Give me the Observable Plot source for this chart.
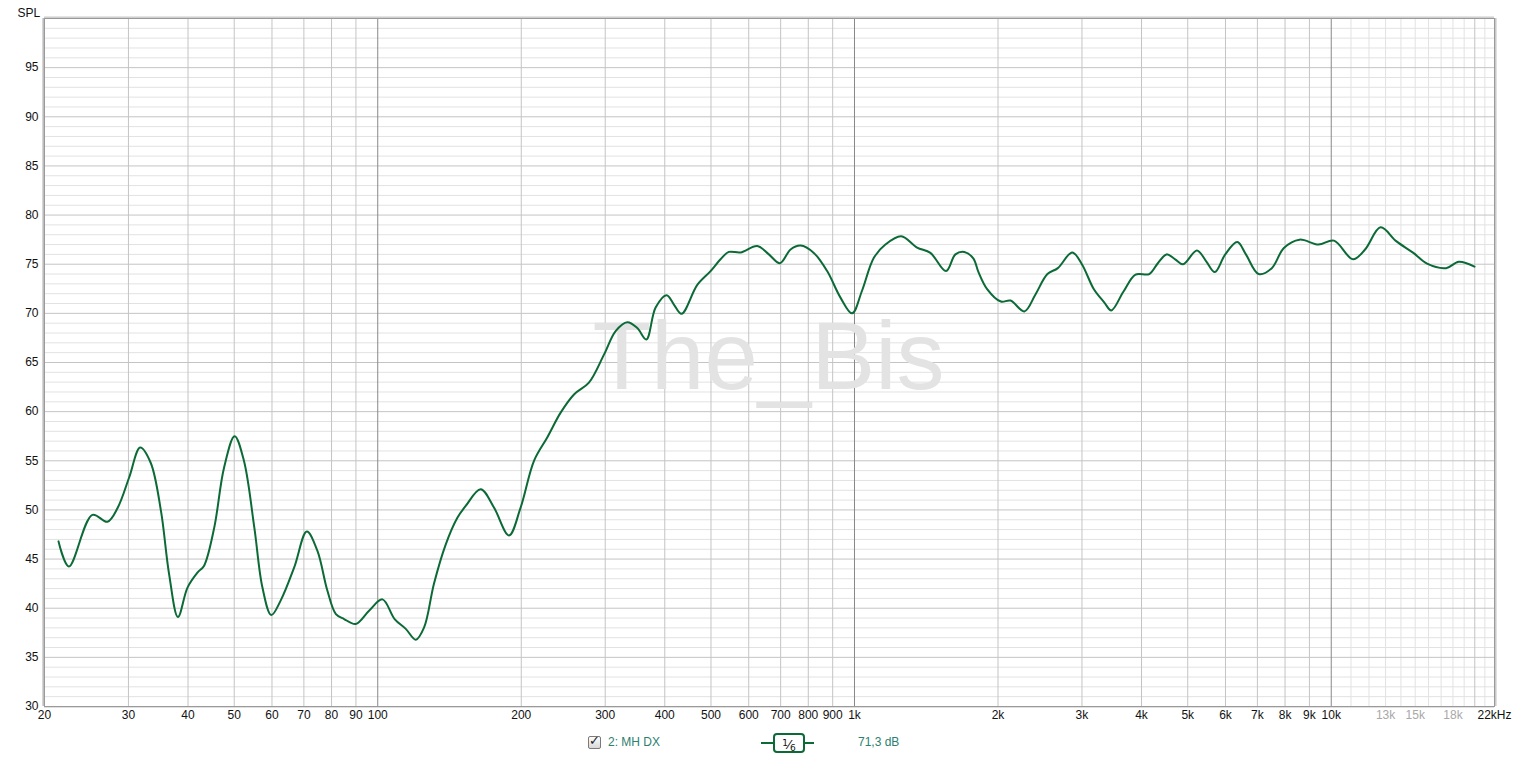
<!DOCTYPE html>
<html>
<head>
<meta charset="utf-8">
<script src="https://cdn.jsdelivr.net/npm/d3@7"></script>
<script src="https://cdn.jsdelivr.net/npm/@observablehq/plot@0.6"></script>
<style>
  html, body { margin: 0; padding: 0; background: #fff; }
  #wrap { position: relative; width: 1516px; height: 758px; overflow: hidden; font-family: "Liberation Sans", Arial, sans-serif; }
  #legend { position: absolute; left: 0; top: 730px; width: 1516px; height: 28px; font-size: 12px; }
  .lg { position: absolute; white-space: nowrap; }
</style>
</head>
<body>
<div id="wrap">
  <div id="chart"></div>
  <div id="legend">
    <div class="lg" style="left:588px;top:6px;width:11px;height:11px;border:1px solid #7a7a7a;border-radius:2px;background:linear-gradient(#fdfdfd,#d8d8d8);"></div>
    <div class="lg" style="left:589px;top:3px;font-size:13px;color:#222;font-family:'DejaVu Sans';">✓</div>
    <div class="lg" id="seriesName" style="left:608px;top:5px;color:#2b8070;"></div>
    <div class="lg" style="left:761px;top:12px;width:53px;height:2px;background:#0b6a36;"></div>
    <div class="lg" style="left:773px;top:3px;width:28px;height:16px;border:2px solid #0b6a36;border-radius:4px;background:#fff;text-align:center;font-size:13px;line-height:16px;color:#111;font-family:'DejaVu Sans';"><span style="font-size:9px;vertical-align:3px;">1</span>⁄<span style="font-size:9px;vertical-align:-2px;">6</span></div>
    <div class="lg" id="levelText" style="left:858px;top:5px;color:#2b8070;"></div>
  </div>
</div>
<script>
// ---- data ----
const freqs = [21.4, 22.5, 25.2, 27.1, 28.5, 30.1, 31.75, 33.4, 35.1, 36.5, 38.1, 39.9, 41.9, 43.2, 45.4, 47.6, 50.1, 52.4, 55.1, 57.3, 59.8, 62.6, 66.8, 71.0, 74.7, 78.4, 81.7, 85.0, 89.9, 95.9, 102.3, 108.5, 114.5, 120.2, 125.1, 131.2, 138.9, 146.9, 152.9, 164.4, 175.3, 188.5, 199.4, 212.7, 226.9, 241.9, 258, 277.3, 298.2, 315.5, 333.8, 350.3, 365.9, 382.7, 403.6, 418, 433.8, 468, 499, 523.6, 545.1, 576.8, 625.2, 661.3, 697.5, 734.4, 770.7, 821.6, 876.3, 934.6, 988.8, 1037, 1098, 1161, 1253, 1353, 1443, 1556, 1628, 1700, 1775, 1820, 1896, 2028, 2124, 2271, 2395, 2539, 2670, 2862, 2999, 3178, 3343, 3456, 3664, 3885, 4152, 4328, 4514, 4705, 4889, 5226, 5466, 5699, 5993, 6353, 6622, 7043, 7505, 7955, 8578, 9402, 10132, 11105, 11774, 12690, 13683, 14867, 15889, 17414, 18521, 19973];
const spl = [46.8, 44.25, 49.5, 48.8, 50.25, 53.3, 56.35, 54.8, 49.9, 43.5, 39.1, 42.1, 43.65, 44.3, 48.2, 54.3, 57.5, 55.0, 48.2, 42.1, 39.3, 40.8, 44.15, 47.8, 45.85, 41.8, 39.4, 38.9, 38.4, 39.75, 40.9, 38.9, 37.9, 36.8, 38.05, 42.5, 46.5, 49.2, 50.4, 52.1, 50.25, 47.4, 50.25, 55.0, 57.4, 59.9, 61.75, 62.95, 65.8, 68.2, 69.1, 68.5, 67.35, 70.6, 71.85, 70.9, 69.95, 72.9, 74.3, 75.5, 76.25, 76.2, 76.85, 76.0, 75.1, 76.5, 76.9, 76.15, 74.3, 71.6, 70.0, 72.3, 75.65, 77.0, 77.85, 76.7, 76.15, 74.3, 76.0, 76.25, 75.6, 74.2, 72.5, 71.2, 71.3, 70.2, 71.9, 74.0, 74.6, 76.2, 75.0, 72.45, 71.1, 70.3, 72.2, 73.95, 74.0, 75.1, 76.0, 75.5, 75.0, 76.4, 75.3, 74.2, 76.0, 77.25, 76.0, 74.0, 74.6, 76.65, 77.5, 77.0, 77.4, 75.5, 76.5, 78.75, 77.35, 76.15, 75.05, 74.6, 75.25, 74.75];

const seriesName = "2: MH DX";
const levelLabel = "71,3 dB";
const watermark = "The_Bis";
const yAxisTitle = "SPL";

const yTicks = [30, 35, 40, 45, 50, 55, 60, 65, 70, 75, 80, 85, 90, 95];
const xTickValues = [20, 30, 40, 50, 60, 70, 80, 90, 100, 200, 300, 400, 500, 600, 700, 800, 900, 1000, 2000, 3000, 4000, 5000, 6000, 7000, 8000, 9000, 10000];
const xTickLabels = ["20", "30", "40", "50", "60", "70", "80", "90", "100", "200", "300", "400", "500", "600", "700", "800", "900", "1k", "2k", "3k", "4k", "5k", "6k", "7k", "8k", "9k", "10k"];
const xFaintTickValues = [13000, 15000, 18000];
const xFaintTickLabels = ["13k", "15k", "18k"];
const xEndTickValues = [22000];
const xEndTickLabels = ["22kHz"];

const majorGridX = [30, 40, 50, 60, 70, 80, 90, 200, 300, 400, 500, 600, 700, 800, 900, 2000, 3000, 4000, 5000, 6000, 7000, 8000, 9000, 20000];
const decadeGridX = [100, 1000, 10000];
const minorGridX = [11000, 12000, 13000, 14000, 15000, 16000, 17000, 18000, 19000, 21000];
const majorGridY = [35, 40, 45, 50, 55, 60, 65, 70, 75, 80, 85, 90, 95];
const minorGridY = d3.range(31, 100).filter(v => v % 5 !== 0);

// ---- chart ----
const data = freqs.map((f, i) => ({f, v: spl[i]}));
const tickData = (vals, labels) => vals.map((v, i) => ({v, label: labels[i]}));

const chart = Plot.plot({
  width: 1516,
  height: 730,
  marginLeft: 44,
  marginRight: 22,
  marginTop: 18,
  marginBottom: 24,
  x: {type: "log", domain: [20, 22000], axis: null},
  y: {domain: [30, 100], axis: null},
  style: {fontFamily: "'Liberation Sans', Arial, sans-serif", fontSize: "12px", background: "#fff", color: "#111"},
  marks: [
    Plot.ruleY(minorGridY, {stroke: "#e2e2e2"}),
    Plot.ruleX(minorGridX, {stroke: "#e2e2e2"}),
    Plot.ruleY(majorGridY, {stroke: "#c4c4c4"}),
    Plot.ruleX(majorGridX, {stroke: "#c4c4c4"}),
    Plot.ruleX(decadeGridX, {stroke: "#888"}),
    Plot.text([watermark], {x: 660, y: 65.4, text: d => d, fontSize: 96, fill: "#e3e3e3", textAnchor: "middle", fontFamily: "'Liberation Sans', Arial, sans-serif"}),
    Plot.line(data, {x: "f", y: "v", curve: "catmull-rom", stroke: "#0b6a36", strokeWidth: 2}),
    // frame with shadow
    Plot.ruleX([20], {stroke: "#d6d6d6", dx: -2}),
    Plot.ruleX([20], {stroke: "#bdbdbd", dx: -1}),
    Plot.ruleY([100], {stroke: "#e4e4e4", dy: -2}),
    Plot.ruleY([100], {stroke: "#cfcfcf", dy: -1}),
    Plot.ruleX([22000], {stroke: "#c9c9c9", dx: 1}),
    Plot.ruleX([22000], {stroke: "#e0e0e0", dx: 2}),
    Plot.ruleY([30], {stroke: "#e0e0e0", dy: 1}),
    Plot.frame({stroke: "#9a9a9a"}),
    // axes
    Plot.axisY(yTicks, {anchor: "left", tickSize: 0, tickPadding: 6, label: null, fill: "#111"}),
    Plot.text(tickData(xTickValues, xTickLabels), {x: "v", text: "label", frameAnchor: "bottom", dy: 12, fill: "#111"}),
    Plot.text(tickData(xFaintTickValues, xFaintTickLabels), {x: "v", text: "label", frameAnchor: "bottom", dy: 12, fill: "#a8a8a8"}),
    Plot.text(tickData(xEndTickValues, xEndTickLabels), {x: "v", text: "label", frameAnchor: "bottom", dy: 12, fill: "#111"}),
    Plot.text([yAxisTitle], {frameAnchor: "top-left", dx: -27, dy: -10, text: d => d, textAnchor: "start", fill: "#111"})
  ]
});
document.getElementById("chart").appendChild(chart);
document.getElementById("seriesName").textContent = seriesName;
document.getElementById("levelText").textContent = levelLabel;
</script>
</body>
</html>
